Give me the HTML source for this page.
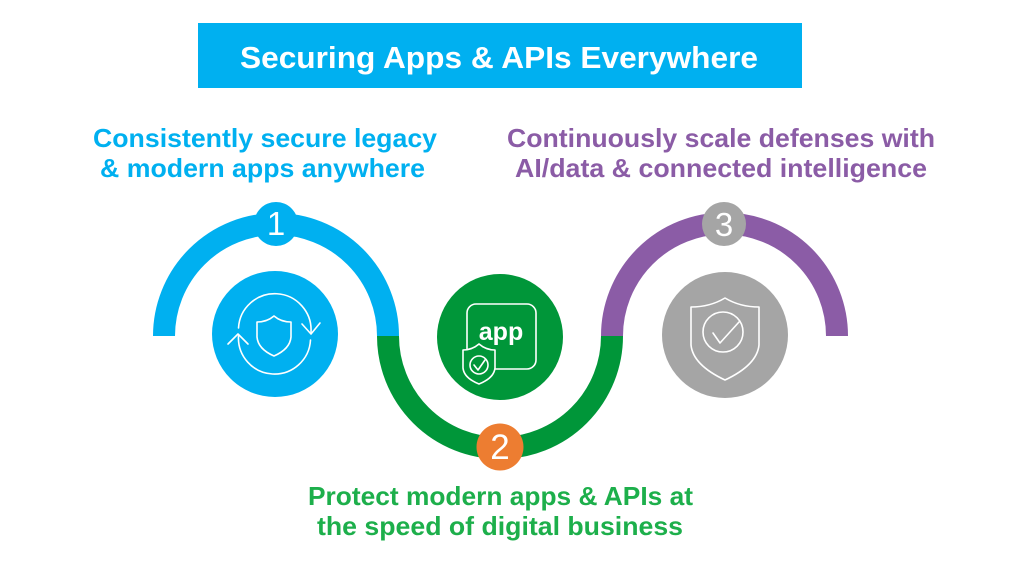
<!DOCTYPE html>
<html>
<head>
<meta charset="utf-8">
<style>
  html, body { margin: 0; padding: 0; background: #ffffff; }
  body { width: 1024px; height: 576px; overflow: hidden; }
  svg { display: block; }
  text { font-family: "Liberation Sans", Arial, sans-serif; }
</style>
</head>
<body>
<svg width="1024" height="576" viewBox="0 0 1024 576" xmlns="http://www.w3.org/2000/svg">
  <rect x="0" y="0" width="1024" height="576" fill="#ffffff"/>

  <!-- Title -->
  <rect x="198" y="23" width="604" height="65" fill="#00B0F0"/>
  <text x="240" y="68" font-size="31" font-weight="bold" fill="#ffffff" textLength="518" lengthAdjust="spacingAndGlyphs">Securing Apps &amp; APIs Everywhere</text>

  <!-- Blue heading -->
  <text x="93" y="147" font-size="26" font-weight="bold" fill="#00B0F0" textLength="344" lengthAdjust="spacingAndGlyphs">Consistently secure legacy</text>
  <text x="100" y="177" font-size="26" font-weight="bold" fill="#00B0F0" textLength="325" lengthAdjust="spacingAndGlyphs">&amp; modern apps anywhere</text>

  <!-- Purple heading -->
  <text x="507" y="147" font-size="26" font-weight="bold" fill="#8B5CA6" textLength="428" lengthAdjust="spacingAndGlyphs">Continuously scale defenses with</text>
  <text x="515" y="177" font-size="26" font-weight="bold" fill="#8B5CA6" textLength="412" lengthAdjust="spacingAndGlyphs">AI/data &amp; connected intelligence</text>

  <!-- Green heading -->
  <text x="308" y="505" font-size="26" font-weight="bold" fill="#1DAF4B" textLength="385" lengthAdjust="spacingAndGlyphs">Protect modern apps &amp; APIs at</text>
  <text x="317" y="535" font-size="26" font-weight="bold" fill="#1DAF4B" textLength="366" lengthAdjust="spacingAndGlyphs">the speed of digital business</text>

  <!-- Arcs -->
  <path d="M164 336 A112 112 0 0 1 388 336" fill="none" stroke="#00B0F0" stroke-width="22"/>
  <path d="M388 336 A112 112 0 0 0 612 336" fill="none" stroke="#009639" stroke-width="22"/>
  <path d="M612 336 A112.5 112.5 0 0 1 837 336" fill="none" stroke="#8B5CA6" stroke-width="22"/>

  <!-- Badges -->
  <circle cx="276" cy="224" r="22" fill="#00B0F0"/>
  <text x="276" y="235" font-size="33" fill="#ffffff" text-anchor="middle">1</text>

  <circle cx="500" cy="447" r="23.5" fill="#ED7D31"/>
  <text x="500" y="459" font-size="35" fill="#ffffff" text-anchor="middle">2</text>

  <circle cx="724" cy="224" r="22" fill="#A5A5A5"/>
  <text x="724" y="236" font-size="33" fill="#ffffff" text-anchor="middle">3</text>

  <!-- Blue icon circle -->
  <circle cx="275" cy="334" r="63" fill="#00B0F0"/>
  <g fill="none" stroke="#ffffff" stroke-width="1.6" stroke-linecap="round" stroke-linejoin="round">
    <!-- top arc: left to right arrow -->
    <path d="M238.5 328 A35.5 35.5 0 0 1 311 332"/>
    <!-- bottom arc: right to left arrow -->
    <path d="M310.5 340 A35.5 35.5 0 0 1 238.5 336"/>
    <!-- right arrowhead pointing down -->
    <path d="M302 324 L311 334 L320 323"/>
    <!-- left arrowhead pointing up -->
    <path d="M228 344 L238 334 L248 344"/>
    <!-- shield -->
    <path d="M257 322 Q267 322 274 316 Q281 322 291 322 L291 337 Q290 349 274 356 Q258 349 257 337 Z"/>
  </g>

  <!-- Green icon circle -->
  <circle cx="500" cy="337" r="63" fill="#009639"/>
  <g fill="none" stroke="#ffffff" stroke-width="1.6" stroke-linejoin="round" stroke-linecap="round">
    <rect x="467" y="304" width="69" height="65" rx="9" ry="9"/>
  </g>
  <text x="501" y="340" font-size="25" font-weight="bold" fill="#ffffff" text-anchor="middle">app</text>
  <g stroke="#ffffff" stroke-width="1.6" stroke-linejoin="round" stroke-linecap="round">
    <path d="M463 350 Q472 350 479 344 Q486 350 495 350 L495 368 Q494 378 479 384 Q464 378 463 368 Z" fill="#009639"/>
    <circle cx="479" cy="365" r="9" fill="none"/>
    <path d="M474 365 L478 370 L485 360" fill="none"/>
  </g>

  <!-- Gray icon circle -->
  <circle cx="725" cy="335" r="63" fill="#A5A5A5"/>
  <g fill="none" stroke="#ffffff" stroke-width="1.6" stroke-linejoin="round" stroke-linecap="round">
    <path d="M691 307 Q710 307 725 298 Q740 307 759 307 L759 345 Q757 365 725 380 Q693 365 691 345 Z"/>
    <circle cx="723" cy="332" r="20"/>
    <path d="M713 333 L720 343 L739 322"/>
  </g>
</svg>
</body>
</html>
